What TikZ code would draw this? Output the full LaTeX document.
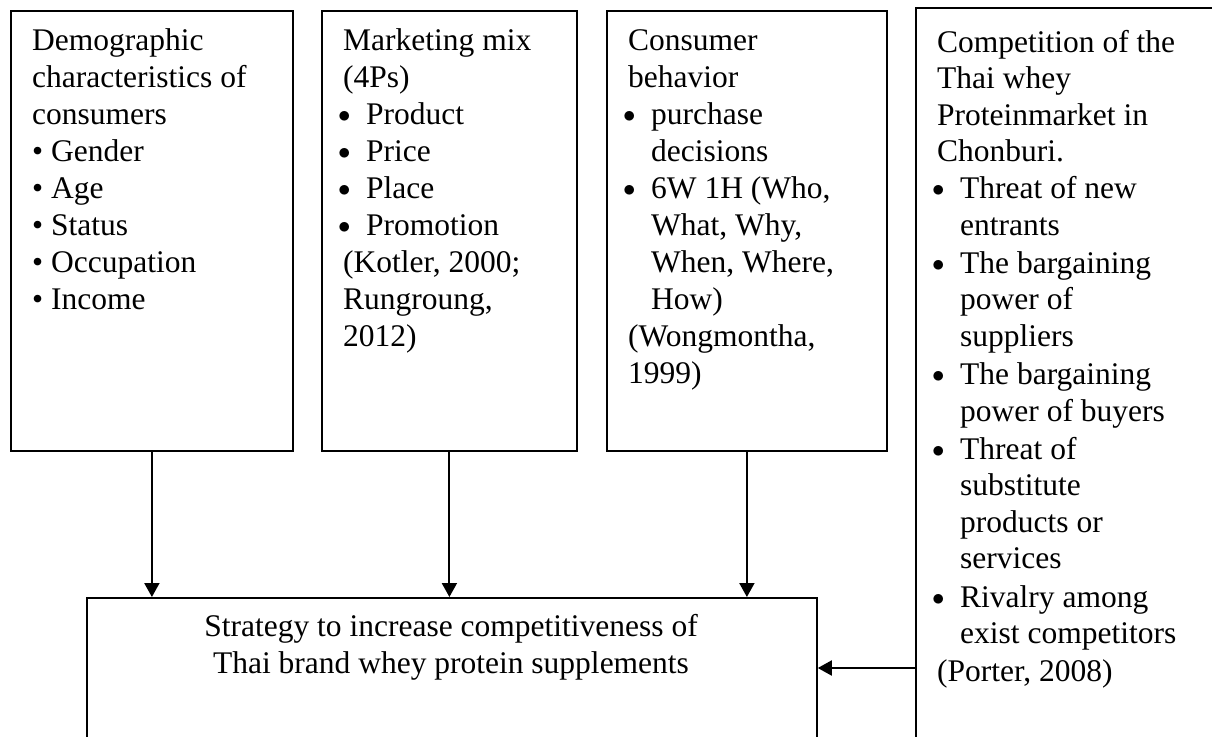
\documentclass[tikz,border=0pt]{standalone}
\usepackage{fontspec}
\setmainfont{Liberation Serif}
\usetikzlibrary{arrows.meta}
\newcommand\bb{\makebox[23pt][l]{\hspace*{-5pt}\raisebox{1.5pt}{\fontsize{42}{0}\selectfont$\bullet$}}}
\newcommand\hh{\hspace*{23pt}}
\tikzset{
  boxnode/.style={draw, line width=1.8pt, inner sep=0pt, anchor=north west},
  txt/.style={anchor=base west, inner sep=0pt, font=\fontsize{31.5}{37}\selectfont},
  arr/.style={line width=2pt, -{Triangle[length=14pt,width=15pt]}}
}
\begin{document}
\begin{tikzpicture}[x=1pt,y=-1pt]
\clip (0,0) rectangle (1212,736);
\fill[white] (0,0) rectangle (1212,736);
% boxes
\node[boxnode, minimum width=282pt, minimum height=440pt] (b1) at (10,10) {};
\node[boxnode, minimum width=255pt, minimum height=440pt] (b2) at (321,10) {};
\node[boxnode, minimum width=280pt, minimum height=440pt] (b3) at (606,10) {};
\node[boxnode, line width=2.2pt, minimum width=330pt, minimum height=770pt] (b4) at (915,7) {};
\node[boxnode, minimum width=730pt, minimum height=180pt] (m) at (86,597) {};
% texts
\node[txt] (t1) at (32,50) {\parbox[t]{400pt}{\raggedright
Demographic\\ characteristics of\\ consumers\\ \textbullet\ Gender\\ \textbullet\ Age\\ \textbullet\ Status\\ \textbullet\ Occupation\\ \textbullet\ Income}};
\node[txt] (t2) at (343,50) {\parbox[t]{400pt}{\raggedright
Marketing mix\\ (4Ps)\\ \bb Product\\ \bb Price\\ \bb Place\\ \bb Promotion\\ (Kotler, 2000;\\ Rungroung,\\ 2012)}};
\node[txt] (t3) at (628,50) {\parbox[t]{400pt}{\raggedright
Consumer\\ behavior\\ \bb purchase\\ \hh decisions\\ \bb 6W 1H (Who,\\ \hh What, Why,\\ \hh When, Where,\\ \hh How)\\ (Wongmontha,\\ 1999)}};
\node[txt, font=\fontsize{31.5}{36.6}\selectfont] (t4) at (937,52) {\parbox[t]{400pt}{\raggedright
Competition of the\\ Thai whey\\ Proteinmarket in\\ Chonburi.\\ \bb Threat of new\\ \hh entrants\\[1.5pt] \bb The bargaining\\ \hh power of\\ \hh suppliers\\[1.5pt] \bb The bargaining\\ \hh power of buyers\\[1.5pt] \bb Threat of\\ \hh substitute\\ \hh products or\\ \hh services\\[1.5pt] \bb Rivalry among\\ \hh exist competitors\\[1.5pt] (Porter, 2008)}};
\node[txt, anchor=base] (tm) at (451,636) {\parbox[t]{700pt}{\centering
Strategy to increase competitiveness of\\ Thai brand whey protein supplements}};
% connectors
\draw[arr] (b1.south) -- (b1.south |- m.north);
\draw[arr] (b2.south) -- (b2.south |- m.north);
\draw[arr] (b3.south) -- (b3.south |- m.north);
\coordinate (h) at (915,668);
\draw[arr] (h) -- (h -| m.east);
\end{tikzpicture}
\end{document}
